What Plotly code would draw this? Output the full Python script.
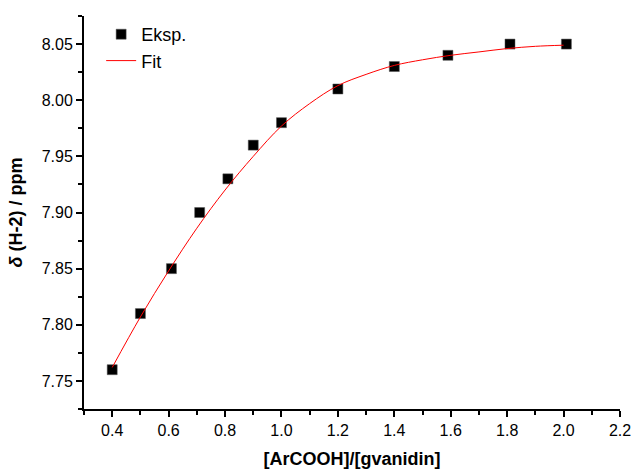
import plotly.graph_objects as go

ratio = [0.40, 0.50, 0.61, 0.71, 0.81, 0.90, 1.00, 1.20, 1.40, 1.59, 1.81, 2.01]
shift = [7.76, 7.81, 7.85, 7.90, 7.93, 7.96, 7.98, 8.01, 8.03, 8.04, 8.05, 8.05]

fit_x = [0.40, 0.50, 0.60, 0.70, 0.80, 0.90, 1.00, 1.10, 1.20, 1.30, 1.40, 1.50, 1.60, 1.70, 1.80, 1.90, 2.00]
fit_y = [7.762, 7.807, 7.848, 7.886, 7.920, 7.950, 7.977, 7.997, 8.013, 8.023, 8.031, 8.036, 8.040, 8.043, 8.046, 8.048, 8.049]

x_ticks = [0.4, 0.6, 0.8, 1.0, 1.2, 1.4, 1.6, 1.8, 2.0, 2.2]
y_ticks = [7.75, 7.80, 7.85, 7.90, 7.95, 8.00, 8.05]

FONT = "Liberation Sans, Arial, sans-serif"

fig = go.Figure()
fig.add_trace(go.Scatter(
    x=ratio, y=shift, mode="markers", name="Eksp.",
    marker=dict(symbol="square", size=10, color="black",
                line=dict(color="#555", width=0.5)),
))
fig.add_trace(go.Scatter(
    x=fit_x, y=fit_y, mode="lines", name="Fit",
    line=dict(color="red", width=1, shape="spline"),
))

axis_common = dict(
    showline=True, linecolor="black", linewidth=2,
    ticks="outside", ticklen=6, tickwidth=1.5, tickcolor="black",
    showgrid=False, zeroline=False, mirror=False, automargin=False,
    tickfont=dict(family=FONT, size=16, color="black"),
)

fig.update_layout(
    width=633, height=469,
    paper_bgcolor="white", plot_bgcolor="white",
    margin=dict(l=84, r=13, t=16, b=60),
    font=dict(family=FONT, color="black"),
    showlegend=True,
    legend=dict(x=0.032, y=1.0, xanchor="left", yanchor="top",
                bgcolor="rgba(0,0,0,0)", font=dict(family=FONT, size=18),
                tracegroupgap=0),
    xaxis=dict(range=[0.3, 2.2], tickvals=x_ticks,
               ticktext=[f"{v:.1f}" for v in x_ticks],
               minor=dict(ticks="outside", dtick=0.1, tick0=0.3, ticklen=4, tickwidth=1.5, tickcolor="black"),
               title=dict(text="<b>[ArCOOH]/[gvanidin]</b>", font=dict(family=FONT, size=18), standoff=16),
               **axis_common),
    yaxis=dict(range=[7.725, 8.075], tickvals=y_ticks,
               ticktext=[f"{v:.2f}" for v in y_ticks],
               minor=dict(ticks="outside", dtick=0.025, tick0=7.725, ticklen=4, tickwidth=1.5, tickcolor="black"),
               title=dict(text="<b><i>δ</i> (H-2) / ppm</b>", font=dict(family=FONT, size=18), standoff=14),
               **axis_common),
)

fig.write_html("out.html",
               config={"displayModeBar": False},
               post_script="document.body.style.margin='0';document.body.style.padding='0';document.documentElement.style.overflow='hidden';")
